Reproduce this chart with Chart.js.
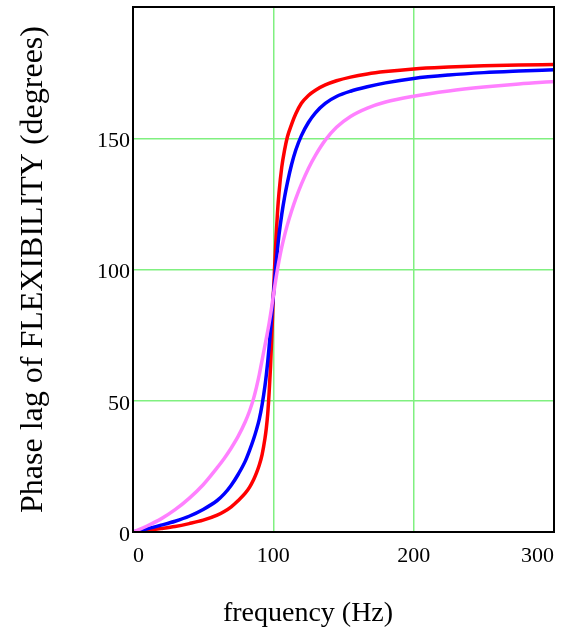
<!DOCTYPE html>
<html>
<head>
<meta charset="utf-8">
<script src="https://cdn.jsdelivr.net/npm/chart.js@4.4.1/dist/chart.umd.min.js"></script>
<style>
  html, body { margin: 0; padding: 0; background: #fff; }
  #wrap { width: 583px; height: 633px; }
</style>
</head>
<body>
<div id="wrap"><canvas id="myChart" width="583" height="633"></canvas></div>
<script>
// frequency points (Hz) shared by all three curves
const freq = [0, 10, 20, 30, 40, 50, 60, 65, 70, 75, 80, 83, 86, 88, 90, 92, 94, 95, 96, 97, 98, 99, 100, 101, 102, 103, 104, 106, 108, 110, 113, 116, 120, 125, 130, 137, 145, 155, 167, 180, 200, 225, 250, 275, 300];

// phase lag (degrees)
const redLag = [0, 0.6, 1.3, 2.1, 3.2, 4.5, 6.4, 7.8, 9.6, 12, 14.8, 17, 20, 22.5, 25.5, 29.5, 35.5, 39.5, 45, 53, 63, 76, 90, 102, 113, 122, 129, 139, 145.5, 150.5, 155.3, 159.3, 163.3, 166.3, 168.3, 170.3, 171.9, 173.3, 174.5, 175.4, 176.4, 177.1, 177.6, 177.9, 178.1];
const blueLag = [0, 1.2, 2.6, 4.1, 6.0, 8.6, 12, 14.5, 17.8, 22, 27, 31, 35.5, 39, 43, 48.5, 55.5, 59.8, 64.8, 70.5, 77, 83.5, 90, 96.5, 102.5, 108, 113, 121, 127.5, 133, 140, 145.5, 151, 156, 159.7, 163.3, 165.9, 167.9, 169.6, 171.1, 172.8, 174.1, 175, 175.6, 176.1];
const pinkLag = [0, 2.3, 5.0, 8.5, 12.8, 18, 24.5, 28, 32, 36.5, 42, 46, 51, 55.2, 60, 65.5, 71, 73.8, 76.5, 79.5, 82.8, 86.3, 90, 93.5, 97, 100.2, 103.2, 108.5, 113, 117, 122.3, 127, 132.5, 138.5, 143.5, 149.3, 154.2, 158.3, 161.5, 163.8, 166, 168, 169.5, 170.7, 171.6];

const xTicks = [0, 100, 200, 300];
const yTicks = [0, 50, 100, 150];

function toPoints(ys) {
  return freq.map(function (f, i) { return { x: f, y: ys[i] }; });
}

const serif = "'Liberation Serif', 'DejaVu Serif', serif";
const gridGreen = '#80f080';

// black frame round the plot area, plus the x title placed like the original
const frame = {
  id: 'frame',
  afterDraw(chart) {
    const a = chart.chartArea;
    const c = chart.ctx;
    c.save();
    c.strokeStyle = '#000';
    c.lineWidth = 2;
    c.strokeRect(a.left, a.top, a.right - a.left, a.bottom - a.top);
    c.fillStyle = '#000';
    c.font = '28px ' + serif;
    c.textAlign = 'center';
    c.textBaseline = 'alphabetic';
    c.fillText('frequency (Hz)', 308, 621);
    c.restore();
  }
};

const ctx = document.getElementById('myChart').getContext('2d');
new Chart(ctx, {
  type: 'line',
  data: {
    datasets: [
      { data: toPoints(redLag), borderColor: '#ff0000', order: 3 },
      { data: toPoints(blueLag), borderColor: '#0000ff', order: 2 },
      { data: toPoints(pinkLag), borderColor: '#ff80ff', order: 1 }
    ]
  },
  options: {
    responsive: false,
    animation: false,
    layout: { padding: { top: 7, right: 29, left: 0, bottom: 0 } },
    elements: {
      line: { borderWidth: 3.5, cubicInterpolationMode: 'monotone', fill: false },
      point: { radius: 0 }
    },
    plugins: { legend: { display: false }, tooltip: { enabled: false } },
    scales: {
      x: {
        type: 'linear',
        min: 0,
        max: 300,
        afterBuildTicks: function (s) { s.ticks = xTicks.map(function (v) { return { value: v }; }); },
        afterFit: function (s) { s.height = 101; s.paddingLeft = 0; s.paddingRight = 0; },
        border: { display: false },
        grid: {
          drawTicks: false,
          lineWidth: 1.5,
          color: function (c) { return (c.tick && (c.tick.value === 0 || c.tick.value === 300)) ? 'rgba(0,0,0,0)' : gridGreen; }
        },
        ticks: {
          align: 'inner',
          padding: 11,
          color: '#000',
          font: { family: serif, size: 22 },
          maxRotation: 0
        }
      },
      y: {
        min: 0,
        max: 200,
        afterBuildTicks: function (s) { s.ticks = yTicks.map(function (v) { return { value: v }; }); },
        afterFit: function (s) { s.width = 133; s.paddingTop = 0; s.paddingBottom = 0; },
        border: { display: false },
        grid: {
          drawTicks: false,
          lineWidth: 1.5,
          color: function (c) { return (c.tick && c.tick.value === 0) ? 'rgba(0,0,0,0)' : gridGreen; }
        },
        ticks: {
          padding: 3,
          labelOffset: 3,
          color: '#000',
          font: { family: serif, size: 22 }
        },
        title: {
          display: true,
          text: 'Phase lag of FLEXIBILITY (degrees)',
          color: '#000',
          font: { family: serif, size: 32 },
          padding: { top: 14, bottom: 0 }
        }
      }
    }
  },
  plugins: [frame]
});
</script>
</body>
</html>
